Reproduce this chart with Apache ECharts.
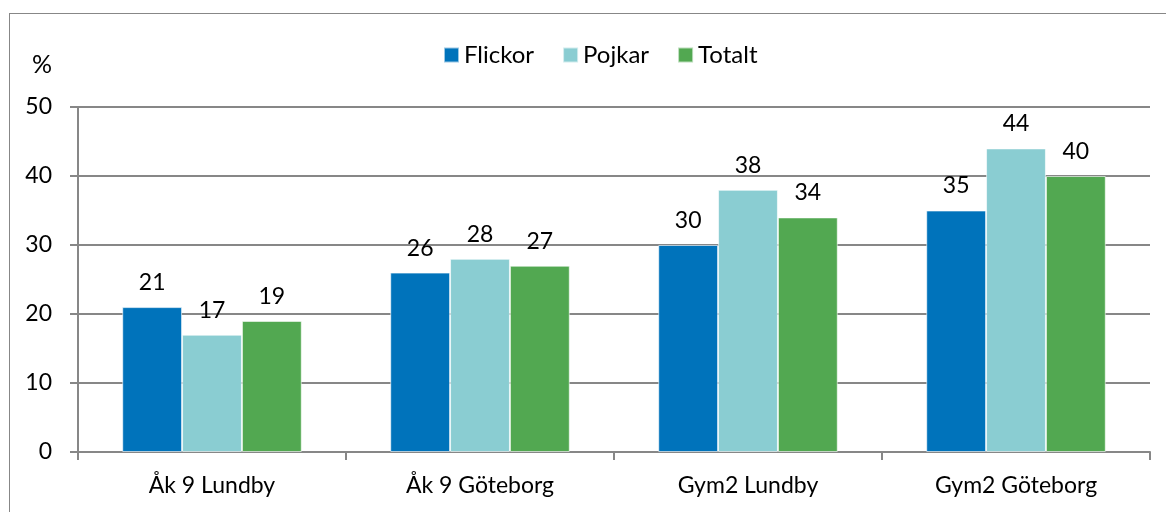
<!DOCTYPE html>
<html lang="sv">
<head>
    <meta charset="UTF-8">
    <title>Andel per grupp</title>
    <script src="https://cdn.jsdelivr.net/npm/echarts@6.0.0/dist/echarts.min.js"></script>
    <style>
        html, body { margin: 0; padding: 0; background: #fff; }
        #frame { position: absolute; left: 9px; top: 13px; width: 1200px; height: 600px; border: 1px solid #878787; }
    </style>
</head>
<body>
    <div id="frame"></div>
    <div id="chart" style="position: absolute; left: 0; top: 0; width: 1166px; height: 512px;"></div>

    <script>
        // data
        const categories = ['Åk 9 Lundby', 'Åk 9 Göteborg', 'Gym2 Lundby', 'Gym2 Göteborg'];
        const flickor = [21, 26, 30, 35];
        const pojkar = [17, 28, 38, 44];
        const totalt = [19, 27, 34, 40];

        const font = 'Lato, "Open Sans", sans-serif';
        const myChart = echarts.init(document.getElementById('chart'));

        const labelStyle = {
            show: true,
            position: 'top',
            distance: 13,
            color: '#000',
            fontSize: 23,
            fontFamily: font
        };

        const makeSeries = (name, data, color) => ({
            name: name,
            type: 'bar',
            data: data,
            barGap: '0%',
            barCategoryGap: '33%',
            itemStyle: { color: color, borderColor: 'rgba(255,255,255,0.6)', borderWidth: 1 },
            label: labelStyle
        });

        const option = {
            animation: false,
            legend: {
                top: 38,
                left: 438,
                itemWidth: 15,
                itemHeight: 15,
                itemGap: 28,
                icon: 'rect',
                textStyle: { fontSize: 24, fontFamily: font, color: '#000' },
                data: ['Flickor', 'Pojkar', 'Totalt']
            },
            grid: { left: 78, right: 16, top: 107, bottom: 60 },
            xAxis: {
                type: 'category',
                data: categories,
                axisLine: { lineStyle: { color: '#878787', width: 2 } },
                axisTick: { show: true, length: 8, lineStyle: { color: '#878787', width: 2 } },
                axisLabel: { fontSize: 23, fontFamily: font, color: '#000', margin: 22 }
            },
            yAxis: {
                type: 'value',
                min: 0,
                max: 50,
                interval: 10,
                name: '%',
                nameLocation: 'end',
                nameGap: 30,
                nameTextStyle: { fontSize: 25, fontFamily: font, color: '#000', align: 'right', padding: [0, 26, 0, 0] },
                axisLine: { show: true, lineStyle: { color: '#878787', width: 2 } },
                axisTick: { show: true, length: 8, lineStyle: { color: '#878787', width: 2 } },
                axisLabel: { fontSize: 23, fontFamily: font, color: '#000', margin: 26 },
                splitLine: { lineStyle: { color: '#878787', width: 2 } }
            },
            series: [
                makeSeries('Flickor', flickor, '#0073BB'),
                makeSeries('Pojkar', pojkar, '#8ACDD2'),
                makeSeries('Totalt', totalt, '#52A851')
            ]
        };

        myChart.setOption(option);
    </script>
</body>
</html>
